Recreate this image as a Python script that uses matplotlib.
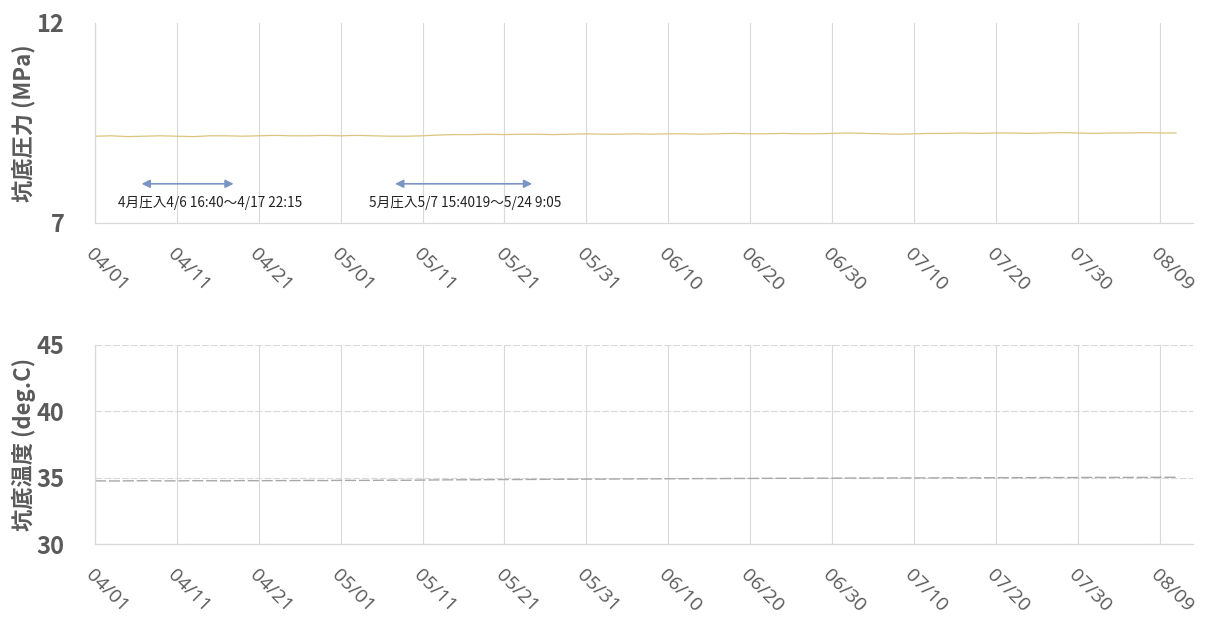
import matplotlib.pyplot as plt
import matplotlib.dates as mdates
import pandas as pd

plt.rcParams['font.family'] = ['Noto Sans CJK JP', 'DejaVu Sans']

# bottom-hole readings, one sample every 2 days from 04/01
dates = pd.date_range("2019-04-01", periods=67, freq="2D")
pressure = [9.17, 9.18, 9.16, 9.17, 9.18, 9.17, 9.16, 9.18, 9.18, 9.17, 9.18,
            9.19, 9.18, 9.18, 9.19, 9.18, 9.19, 9.18, 9.17, 9.17, 9.18,
            9.20, 9.21, 9.21, 9.22, 9.21, 9.22, 9.22, 9.21, 9.22, 9.23,
            9.22, 9.22, 9.23, 9.22, 9.23, 9.23, 9.22, 9.23, 9.24, 9.23,
            9.23, 9.24, 9.23, 9.23, 9.24, 9.25, 9.24, 9.23, 9.22, 9.23,
            9.24, 9.24, 9.25, 9.24, 9.25, 9.25, 9.24, 9.25, 9.26, 9.25,
            9.24, 9.25, 9.25, 9.26, 9.25, 9.25]
temperature = [34.76, 34.75, 34.76, 34.77, 34.76, 34.76, 34.77, 34.77, 34.76,
               34.78, 34.77, 34.78, 34.78, 34.79, 34.78, 34.80, 34.79, 34.80,
               34.81, 34.80, 34.82, 34.83, 34.84, 34.84, 34.85, 34.86, 34.86,
               34.87, 34.88, 34.88, 34.89, 34.89, 34.90, 34.91, 34.91, 34.92,
               34.92, 34.93, 34.93, 34.94, 34.94, 34.95, 34.95, 34.95, 34.96,
               34.96, 34.97, 34.97, 34.97, 34.98, 34.98, 34.98, 34.99, 34.99,
               34.99, 35.00, 35.00, 35.00, 35.01, 35.01, 35.01, 35.02, 35.02,
               35.02, 35.02, 35.03, 35.03]

# injection periods
inj_start = [pd.Timestamp("2019-04-06 16:40"), pd.Timestamp("2019-05-07 15:40")]
inj_end = [pd.Timestamp("2019-04-17 22:15"), pd.Timestamp("2019-05-24 09:05")]
inj_text = ["4月圧入4/6 16:40～4/17 22:15", "5月圧入5/7 15:4019～5/24 9:05"]
inj_text_x = [pd.Timestamp("2019-04-03 19:00"), pd.Timestamp("2019-05-04 12:00")]

x_start = pd.Timestamp("2019-04-01")
x_end = pd.Timestamp("2019-08-13 02:00")
tick_dates = pd.date_range("2019-04-01", "2019-08-09", freq="10D")

text_gray = '#5a5a5a'
grid_gray = '#d9d9d9'

fig = plt.figure(figsize=(12.11, 6.19), dpi=100)
ax1 = fig.add_axes([95/1211, 1-223/619, 1098/1211, 200/619])
ax2 = fig.add_axes([95/1211, 1-544/619, 1098/1211, 199/619])


def style_axis(ax, ylim, yticks, ylabel):
    ax.set_xlim(x_start, x_end)
    ax.set_ylim(*ylim)
    ax.set_yticks(yticks)
    ax.set_xticks(tick_dates)
    ax.xaxis.set_major_formatter(mdates.DateFormatter('%m/%d'))
    for s in ['top', 'right']:
        ax.spines[s].set_visible(False)
    for s in ['left', 'bottom']:
        ax.spines[s].set_color(grid_gray)
        ax.spines[s].set_linewidth(0.9)
    ax.tick_params(length=0)
    ax.tick_params(axis='x', pad=16)
    ax.tick_params(axis='y', pad=22)
    ax.grid(axis='x', color=grid_gray, lw=0.8)
    for lab in ax.get_xticklabels():
        lab.set_rotation(-45)
        lab.set_rotation_mode('anchor')
        lab.set_ha('left')
        lab.set_va('top')
        lab.set_fontsize(14)
        lab.set_family('Open Sans')
        lab.set_color(text_gray)
    for lab in ax.get_yticklabels():
        lab.set_fontsize(17)
        lab.set_fontweight('bold')
        lab.set_color(text_gray)
    ax.set_ylabel(ylabel, fontsize=16, fontweight='bold', color=text_gray)
    ax.yaxis.set_label_coords(-0.054, 0.5)


style_axis(ax1, (7, 12), [7, 12], "坑底圧力 (MPa)")
style_axis(ax2, (30, 45), [30, 35, 40, 45], "坑底温度 (deg.C)")
ax2.grid(axis='y', color=grid_gray, lw=0.8, ls=(0, (6, 2)))

ax1.plot(dates, pressure, color='#dcc47c', lw=0.9)
ax2.plot(dates, temperature, color='#a8a8a8', lw=1.0, ls=(0, (8, 2)))

for s, e, t, tx in zip(inj_start, inj_end, inj_text, inj_text_x):
    ax1.annotate('', xy=(e, 7.98), xytext=(s, 7.98),
                 arrowprops=dict(arrowstyle='<|-|>', color='#7a95c4', lw=1.2,
                                 mutation_scale=12, shrinkA=0, shrinkB=0))
    ax1.text(tx, 7.5, t, fontsize=9.8, color='#222222', va='center', ha='left')

plt.savefig('out.png', dpi=100)
